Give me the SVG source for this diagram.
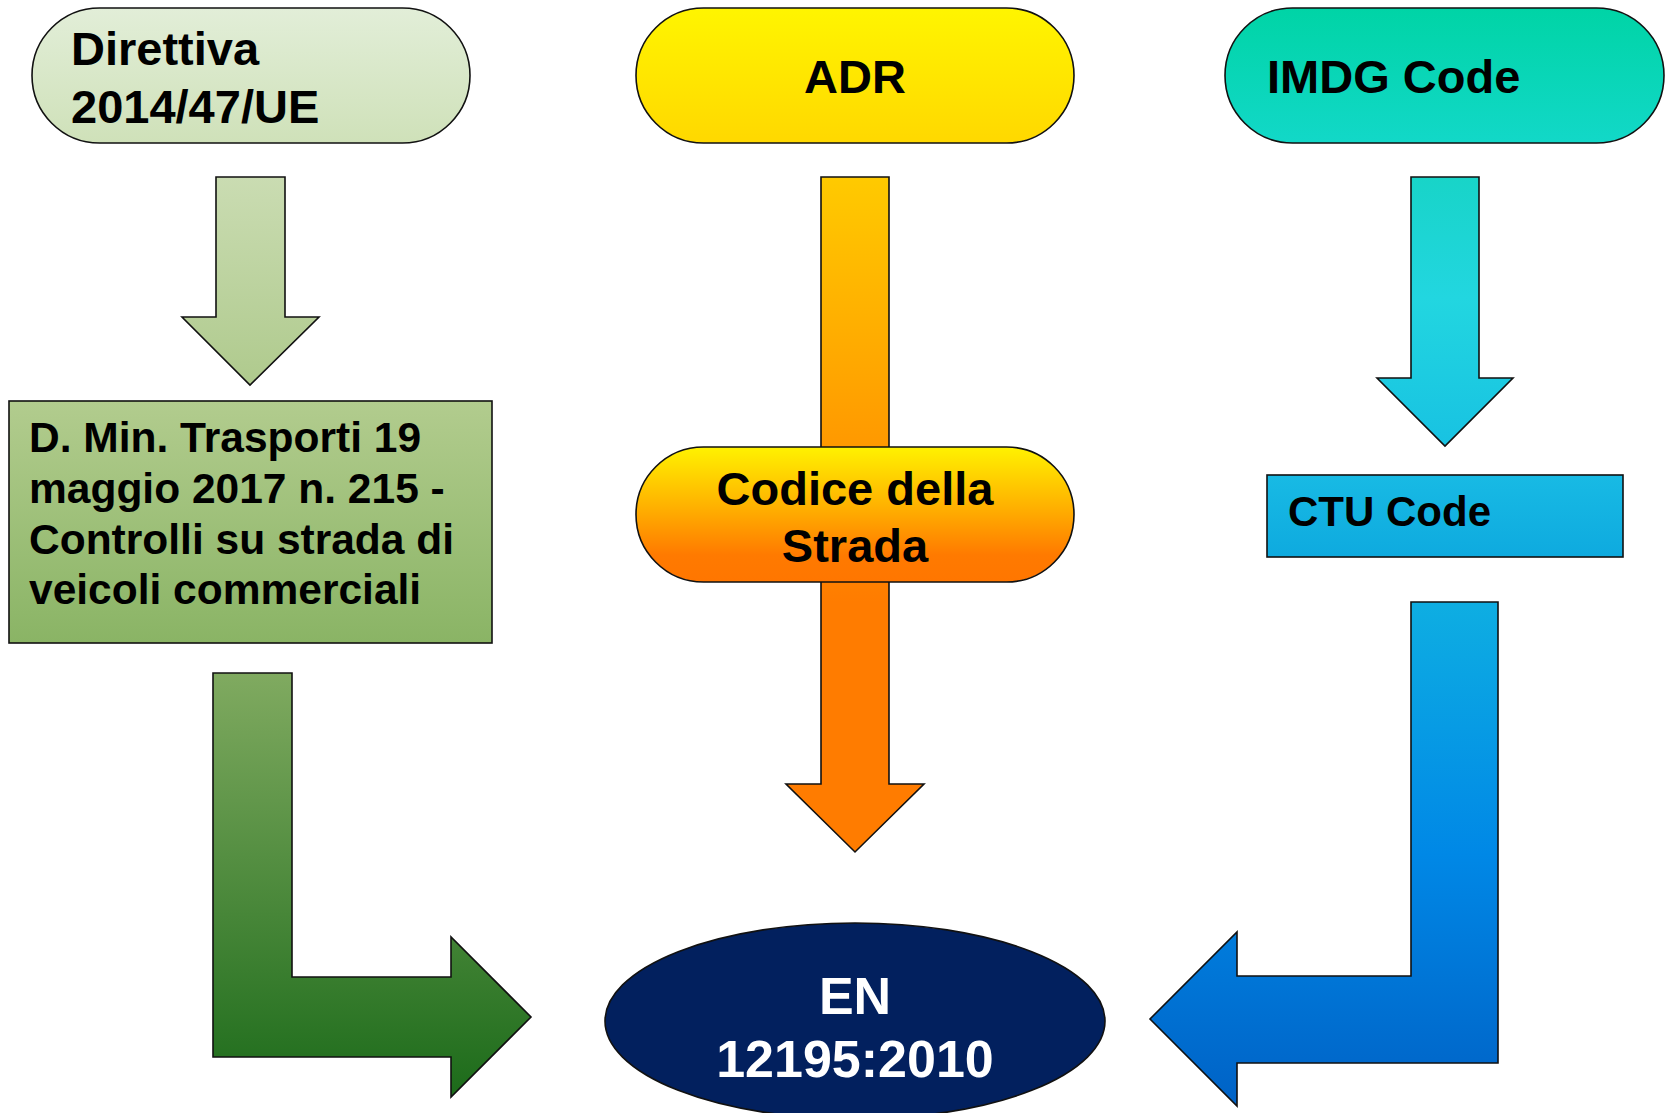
<svg xmlns="http://www.w3.org/2000/svg" width="1671" height="1113" viewBox="0 0 1671 1113">
<defs>
<linearGradient id="gDir" x1="0" y1="0" x2="0" y2="1"><stop offset="0" stop-color="#e2eed8"/><stop offset="1" stop-color="#cfe1b9"/></linearGradient>
<linearGradient id="gArrG1" x1="0" y1="0" x2="0" y2="1"><stop offset="0" stop-color="#cadcb2"/><stop offset="1" stop-color="#afca8d"/></linearGradient>
<linearGradient id="gDmin" x1="0" y1="0" x2="0" y2="1"><stop offset="0" stop-color="#b2cc8e"/><stop offset="1" stop-color="#8ab465"/></linearGradient>
<linearGradient id="gLG" x1="0" y1="0" x2="0" y2="1"><stop offset="0" stop-color="#80aa60"/><stop offset="1" stop-color="#1c6b1a"/></linearGradient>
<linearGradient id="gADR" x1="0" y1="0" x2="0" y2="1"><stop offset="0" stop-color="#fff500"/><stop offset="1" stop-color="#ffd800"/></linearGradient>
<linearGradient id="gOr" x1="0" y1="0" x2="0" y2="1"><stop offset="0" stop-color="#ffca00"/><stop offset="0.63" stop-color="#ff7c00"/><stop offset="1" stop-color="#ff7c00"/></linearGradient>
<linearGradient id="gCod" x1="0" y1="0" x2="0" y2="1"><stop offset="0" stop-color="#fff200"/><stop offset="0.45" stop-color="#ffb000"/><stop offset="0.8" stop-color="#ff7a00"/><stop offset="1" stop-color="#ff7600"/></linearGradient>
<linearGradient id="gIMDG" x1="0" y1="0" x2="0" y2="1"><stop offset="0" stop-color="#00d4a6"/><stop offset="1" stop-color="#12d8c8"/></linearGradient>
<linearGradient id="gCy" x1="0" y1="0" x2="0" y2="1"><stop offset="0" stop-color="#18d4c8"/><stop offset="0.45" stop-color="#22d6e0"/><stop offset="1" stop-color="#18c2e2"/></linearGradient>
<linearGradient id="gCTU" x1="0" y1="0" x2="0" y2="1"><stop offset="0" stop-color="#18bae4"/><stop offset="1" stop-color="#0eaadf"/></linearGradient>
<linearGradient id="gBl" x1="0" y1="0" x2="0" y2="1"><stop offset="0" stop-color="#0eaee2"/><stop offset="0.5" stop-color="#0088e6"/><stop offset="1" stop-color="#0062c6"/></linearGradient>
<style>
.s{stroke:#111;stroke-width:1.6;}
.t{font-family:"Liberation Sans",Arial,sans-serif;font-weight:bold;fill:#000;}
.w{fill:#fff;}
</style>
</defs>
<rect x="0" y="0" width="1671" height="1113" fill="#fff"/>
<g id="connectors">
<polygon class="s" fill="url(#gArrG1)" points="216,177 285,177 285,317 319,317 250,385 182,317 216,317"/>
<polygon class="s" fill="url(#gOr)" points="821,177 889,177 889,784 924,784 855,852 786,784 821,784"/>
<polygon class="s" fill="url(#gCy)" points="1411,177 1479,177 1479,378 1513,378 1445,446 1377,378 1411,378"/>
<polygon class="s" fill="url(#gLG)" points="213,673 292,673 292,977 451,977 451,937 531,1017 451,1097 451,1057 213,1057"/>
<polygon class="s" fill="url(#gBl)" points="1411,602 1498,602 1498,1063 1237,1063 1237,1106 1150,1019 1237,932 1237,976 1411,976"/>
</g>
<g id="n-direttiva">
<rect class="s" x="32" y="8" width="438" height="135" rx="67.5" fill="url(#gDir)"/>
<text class="t" font-size="47" x="71" y="65">Direttiva</text>
<text class="t" font-size="47" x="71" y="123">2014/47/UE</text>
</g>
<g id="n-adr">
<rect class="s" x="636" y="8" width="438" height="135" rx="67.5" fill="url(#gADR)"/>
<text class="t" font-size="47" x="855" y="93" text-anchor="middle">ADR</text>
</g>
<g id="n-imdg">
<rect class="s" x="1225" y="8" width="439" height="135" rx="67.5" fill="url(#gIMDG)"/>
<text class="t" font-size="47" x="1267" y="93">IMDG Code</text>
</g>
<g id="n-dmin">
<rect class="s" x="9" y="401" width="483" height="242" fill="url(#gDmin)"/>
<text class="t" font-size="42.5" x="29" y="452">D. Min. Trasporti 19</text>
<text class="t" font-size="42.5" x="29" y="503">maggio 2017 n. 215 -</text>
<text class="t" font-size="42.5" x="29" y="554">Controlli su strada di</text>
<text class="t" font-size="42.5" x="29" y="604">veicoli commerciali</text>
</g>
<g id="n-codice">
<rect class="s" x="636" y="447" width="438" height="135" rx="67.5" fill="url(#gCod)"/>
<text class="t" font-size="47" x="855" y="505" text-anchor="middle">Codice della</text>
<text class="t" font-size="47" x="855" y="562" text-anchor="middle">Strada</text>
</g>
<g id="n-ctu">
<rect class="s" x="1267" y="475" width="356" height="82" fill="url(#gCTU)"/>
<text class="t" font-size="42" x="1288" y="526">CTU Code</text>
</g>
<g id="n-en">
<ellipse class="s" cx="855" cy="1021" rx="250" ry="98" fill="#02205e"/>
<text class="t w" font-size="52" x="855" y="1014" text-anchor="middle">EN</text>
<text class="t w" font-size="52" x="855" y="1077" text-anchor="middle">12195:2010</text>
</g>
</svg>
